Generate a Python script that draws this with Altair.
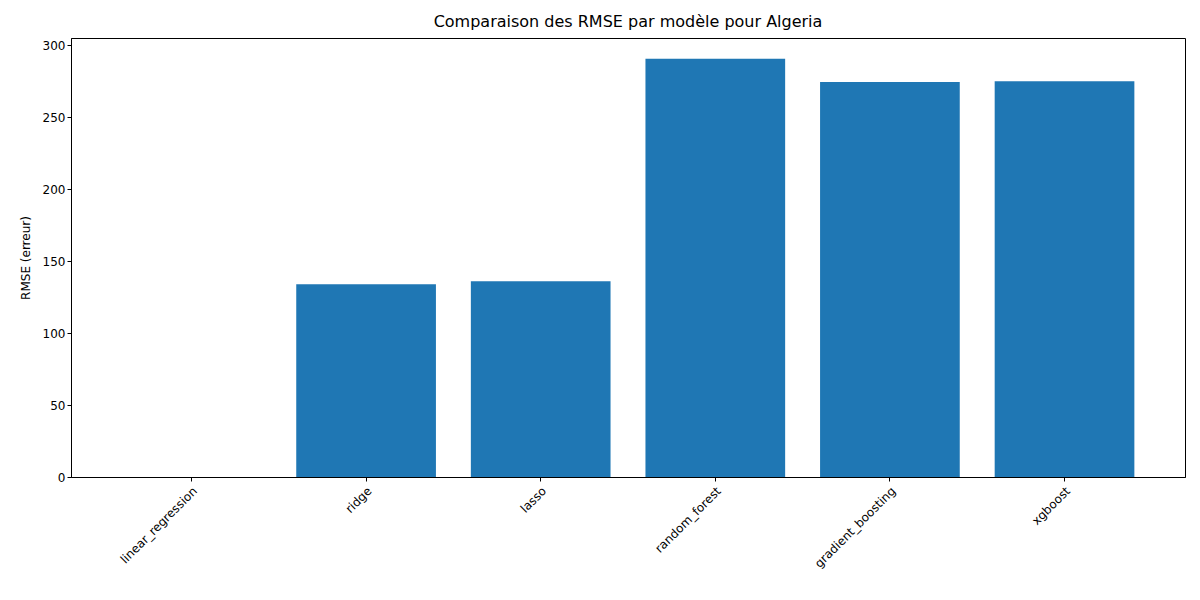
import altair as alt
import pandas as pd

models = ["linear_regression", "ridge", "lasso", "random_forest", "gradient_boosting", "xgboost"]
rmse = [0.0, 134.0, 136.0, 290.5, 274.5, 275.0]

data = pd.DataFrame({"model": models, "rmse": rmse})

axis_common = dict(
    domainColor="black", tickColor="black", labelColor="black", titleColor="black",
    labelFont="DejaVu Sans", titleFont="DejaVu Sans", labelFontSize=12, titleFontSize=12,
    titleFontWeight="normal", tickSize=4, grid=False,
)

chart = (
    alt.Chart(data)
    .mark_bar(color="#1f77b4")
    .encode(
        x=alt.X(
            "model:N", sort=models, title=None,
            scale=alt.Scale(paddingInner=0.2, paddingOuter=0.29),
            axis=alt.Axis(labelAngle=315, labelAlign="right", labelBaseline="top", labelPadding=4, **axis_common),
        ),
        y=alt.Y(
            "rmse:Q", title="RMSE (erreur)",
            scale=alt.Scale(domain=[0, 305], nice=False),
            axis=alt.Axis(values=[0, 50, 100, 150, 200, 250, 300], titlePadding=10, **axis_common),
        ),
    )
    .properties(
        width=1114, height=439,
        title=alt.TitleParams("Comparaison des RMSE par modèle pour Algeria", font="DejaVu Sans",
                              fontSize=16, fontWeight="normal", color="black", offset=8),
        autosize=alt.AutoSizeParams(type="none"),
        padding={"left": 63, "top": 30, "right": 7, "bottom": 115},
    )
    .configure_view(stroke="black", strokeWidth=1)
)

chart.save("out.html", embed_options={"renderer": "svg", "actions": False})
